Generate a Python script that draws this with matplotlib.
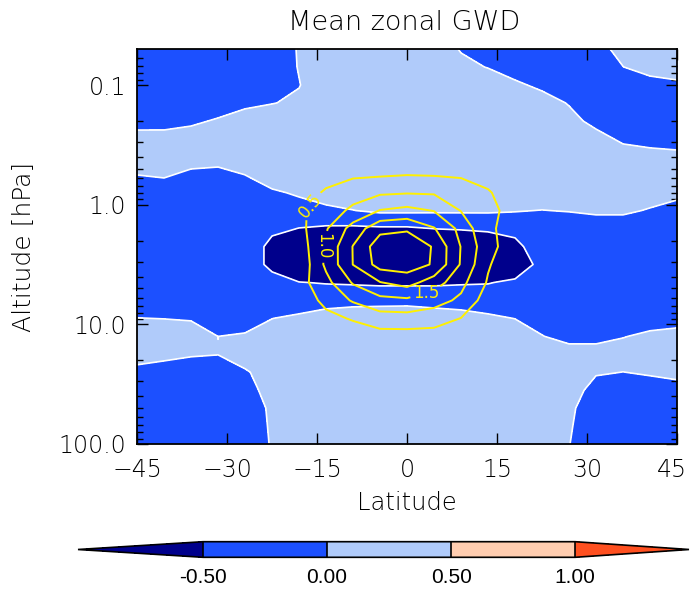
import numpy as np
import matplotlib
matplotlib.use("Agg")
from matplotlib import pyplot as plt
from matplotlib import transforms

# latitude grid (degrees) and pressure levels (hPa) of the model output
lat = np.linspace(-45, 45, 21)
pressure = [0.05, 0.0708, 0.1, 0.141, 0.2, 0.282, 0.398, 0.562, 0.794, 1.12, 1.58, 2.24,
            3.16, 4.47, 6.31, 8.91, 12.6, 17.8, 25.1, 35.5, 50.1, 70.8, 100.0]

# mean zonal gravity wave drag, one row per pressure level (top to bottom)
gwd = [
    [-0.25, -0.25, -0.25, -0.25, -0.25, -0.25, 0.031, 0.25, 0.25, 0.25, 0.25, 0.25, -0.031, -0.25, -0.25, -0.25, -0.25, -0.25, 0.23, 0.25, 0.25],
    [-0.25, -0.25, -0.25, -0.25, -0.25, -0.25, 0.02, 0.25, 0.25, 0.25, 0.25, 0.25, 0.11, -0.016, -0.36, -0.25, -0.25, -0.25, -0.01, 0.25, 0.36],
    [-0.25, -0.25, -0.25, -0.25, -0.25, -0.25, -0.015, 0.25, 0.25, 0.25, 0.25, 0.25, 0.25, 0.25, 0.14, -0.167, -0.25, -0.25, -0.25, -0.25, -0.14],
    [-0.25, -0.25, -0.25, -0.415, -0.165, -0.016, 0.07, 0.25, 0.25, 0.25, 0.25, 0.25, 0.25, 0.25, 0.25, 0.333, -0.051, -0.25, -0.25, -0.25, -0.25],
    [-0.25, -0.25, -0.14, 0.085, 0.335, 0.25, 0.25, 0.25, 0.25, 0.25, 0.25, 0.25, 0.25, 0.25, 0.25, 0.25, 0.25, -0.225, -0.25, -0.25, -0.25],
    [0.247, 0.25, 0.36, 0.25, 0.25, 0.25, 0.25, 0.25, 0.25, 0.25, 0.25, 0.25, 0.25, 0.25, 0.25, 0.25, 0.25, 0.275, -0.14, -0.25, -0.31],
    [0.25, 0.25, 0.34, 0.285, 0.25, 0.25, 0.25, 0.25, 0.25, 0.25, 0.25, 0.25, 0.25, 0.25, 0.25, 0.25, 0.25, 0.25, 0.36, 0.25, 0.19],
    [0.003, 0.09, -0.16, -0.215, 0.003, 0.395, 0.25, 0.25, 0.25, 0.25, 0.25, 0.25, 0.25, 0.25, 0.25, 0.25, 0.25, 0.25, 0.25, 0.25, 0.25],
    [-0.25, -0.41, -0.25, -0.25, -0.25, -0.105, 0.095, 0.34, 0.25, 0.25, 0.25, 0.25, 0.25, 0.25, 0.25, 0.25, 0.25, 0.25, 0.25, 0.25, 0.205],
    [-0.25, -0.25, -0.25, -0.25, -0.25, -0.25, -0.3, -0.16, -0.01, 0.083, 0.083, 0.07, 0.07, 0.07, 0.023, -0.01, 0.023, 0.095, 0.095, -0.044, -0.295],
    [-0.25, -0.25, -0.25, -0.25, -0.25, -0.424, -0.506, -0.56, -0.586, -0.558, -0.558, -0.49, -0.47, -0.45, -0.3, -0.25, -0.3, -0.3, -0.3, -0.25, -0.25],
    [-0.25, -0.25, -0.25, -0.25, -0.25, -0.607, -0.8, -0.9, -1.0, -1.0, -1.0, -0.99, -0.845, -0.713, -0.685, -0.1, -0.25, -0.25, -0.25, -0.25, -0.25],
    [-0.25, -0.25, -0.25, -0.25, -0.25, -0.607, -0.888, -0.9, -1.0, -1.0, -1.0, -1.0, -1.0, -0.9, -0.82, -0.34, -0.25, -0.25, -0.25, -0.25, -0.25],
    [-0.25, -0.25, -0.25, -0.25, -0.25, -0.346, -0.488, -0.522, -0.545, -0.57, -0.582, -0.582, -0.537, -0.522, -0.42, -0.25, -0.25, -0.25, -0.25, -0.25, -0.25],
    [-0.25, -0.25, -0.25, -0.25, -0.25, -0.25, -0.375, -0.25, -0.2, -0.2, -0.15, -0.15, -0.25, -0.25, -0.25, -0.25, -0.25, -0.25, -0.25, -0.25, -0.25],
    [0.008, -0.008, -0.041, -0.25, -0.405, -0.008, 0.125, 0.28, 0.356, 0.406, 0.334, 0.207, 0.222, 0.083, -0.008, -0.25, -0.25, -0.25, -0.25, -0.25, -0.265],
    [0.25, 0.25, 0.25, -0.002, 0.095, 0.25, 0.25, 0.25, 0.25, 0.25, 0.25, 0.25, 0.25, 0.25, 0.25, 0.022, -0.21, -0.21, -0.025, 0.112, 0.235],
    [0.295, 0.185, 0.041, 0.01, 0.405, 0.25, 0.25, 0.25, 0.25, 0.25, 0.25, 0.25, 0.25, 0.25, 0.25, 0.25, 0.29, 0.29, 0.25, 0.25, 0.25],
    [-0.205, -0.315, -0.25, -0.3, -0.095, 0.4, 0.25, 0.25, 0.25, 0.25, 0.25, 0.25, 0.25, 0.25, 0.25, 0.25, 0.25, 0.0625, -0.005, 0.0625, 0.185],
    [-0.25, -0.25, -0.25, -0.25, -0.25, 0.25, 0.25, 0.25, 0.25, 0.25, 0.25, 0.25, 0.25, 0.25, 0.25, 0.25, 0.318, -0.25, -0.25, -0.25, -0.25],
    [-0.25, -0.25, -0.25, -0.25, -0.25, 0.075, 0.25, 0.25, 0.25, 0.25, 0.25, 0.25, 0.25, 0.25, 0.25, 0.25, 0.083, -0.25, -0.25, -0.25, -0.25],
    [-0.25, -0.25, -0.25, -0.25, -0.25, 0.051, 0.25, 0.25, 0.25, 0.25, 0.25, 0.25, 0.25, 0.25, 0.25, 0.25, 0.041, -0.25, -0.25, -0.25, -0.25],
    [-0.25, -0.25, -0.25, -0.25, -0.25, 0.031, 0.25, 0.25, 0.25, 0.25, 0.25, 0.25, 0.25, 0.25, 0.25, 0.25, 0.01, -0.25, -0.25, -0.25, -0.25],
]

# second field (yellow contours) on the inner part of the grid
lat_in = np.linspace(-22.5, 22.5, 11)
pressure_in = [0.398, 0.562, 0.794, 1.12, 1.58, 2.24, 3.16, 4.47, 6.31, 8.91, 12.6]
overlay = [
    [0.0, 0.05, 0.1, 0.15, 0.15, 0.15, 0.15, 0.15, 0.1, 0.05, 0.0],
    [0.0, 0.15, 0.35, 0.42, 0.45, 0.49, 0.47, 0.42, 0.3, 0.1, 0.0],
    [0.0, 0.3, 0.55, 0.8, 0.93, 0.97, 0.95, 0.85, 0.55, 0.2, 0.0],
    [0.0, 0.4, 0.75, 1.1, 1.52, 1.64, 1.48, 0.98, 0.65, 0.3, 0.0],
    [0.0, 0.34, 0.95, 1.7, 2.35, 2.42, 2.03, 1.35, 0.55, 0.38, 0.0],
    [0.0, 0.19, 1.1, 2.02, 2.79, 2.9, 2.45, 1.48, 0.67, 0.21, 0.0],
    [0.0, 0.1, 1.1, 2.01, 2.7, 2.75, 2.45, 1.45, 0.55, 0.1, 0.0],
    [0.0, 0.3, 0.85, 1.55, 1.98, 2.2, 1.75, 1.15, 0.45, 0.1, 0.0],
    [0.0, 0.15, 0.65, 1.05, 1.35, 1.4, 1.2, 0.9, 0.25, 0.05, 0.0],
    [0.0, 0.05, 0.35, 0.55, 0.78, 0.8, 0.72, 0.49, 0.1, 0.0, 0.0],
    [0.0, 0.0, 0.1, 0.2, 0.3, 0.3, 0.3, 0.2, 0.05, 0.0, 0.0],
]

fill_levels = [-0.5, 0.0, 0.5, 1.0]
fill_colors = ["#00008c", "#1c50ff", "#b0cbfa", "#ffcdb0", "#ff5020"]
line_levels = [0.5, 1.0, 1.5, 2.0, 2.5]
label_levels = [0.5, 1.0, 1.5]
cbar_labels = ["-0.50", "0.00", "0.50", "1.00"]

font = ["DejaVu Sans"]
ink = "#000000"
thin = 200
yellow = "#fff000"

fig = plt.figure(figsize=(6.9, 5.89), dpi=100)
ax = fig.add_axes([0.1986, 0.2462, 0.7826, 0.6706])

# contour in log-pressure so the levels are spaced like the axis
logp = np.log10(pressure)
logp_in = np.log10(pressure_in)

cf = ax.contourf(lat, logp, gwd, levels=fill_levels, colors=fill_colors, extend="both")
ax.contour(lat, logp, gwd, levels=fill_levels, colors="white", linewidths=1.2,
           linestyles="solid")

cs = ax.contour(lat_in, logp_in, overlay, levels=line_levels, colors=yellow, linewidths=1.4)
lbls = ax.clabel(cs, levels=label_levels, fmt="%.1f", fontsize=12, inline=True,
                 inline_spacing=3, colors=yellow,
                 manual=[(-15.3, 0.036), (-14.5, 0.345), (3.2, 0.746)])
# label orientation along the curves
for t in lbls:
    t.set_fontfamily(font)
    txt = t.get_text()
    if txt == "0.5":
        t.set_rotation(50)
    elif txt == "1.0":
        t.set_rotation(-90)
    else:
        t.set_rotation(0)

ax.set_xlim(-45, 45)
ax.set_ylim(2.0, np.log10(0.05))
ax.set_xticks([-45, -30, -15, 0, 15, 30, 45])
ax.set_yticks([-1, 0, 1, 2])
ax.set_yticklabels(["0.1", "1.0", "10.0", "100.0"])
minor = [np.log10(k * 10.0 ** n) for n in (-2, -1, 0, 1) for k in range(2, 10)]
ax.set_yticks([m for m in minor if -1.30 <= m <= 2.0], minor=True)

ax.tick_params(which="both", direction="in", top=True, right=True, width=1.0,
               color="black", labelcolor=ink)
ax.tick_params(which="major", length=8, labelsize=17, pad=8)
ax.tick_params(which="minor", length=4.5)
ax.tick_params(axis="x", pad=10)
for lab in ax.get_xticklabels() + ax.get_yticklabels():
    lab.set_fontfamily(font)
    lab.set_fontweight(thin)
# keep the last latitude label inside the figure
last = ax.xaxis.get_major_ticks()[-1].label1
last.set_transform(last.get_transform()
                   + transforms.ScaledTranslation(-5 / 100, 0, fig.dpi_scale_trans))
for sp in ax.spines.values():
    sp.set_linewidth(1.3)

fig.text(0.5855, 1 - 22 / 589, "Mean zonal GWD", ha="center", va="center", fontsize=19.5,
         family=font, weight=thin, color=ink)
fig.text(0.5899, 1 - 503 / 589, "Latitude", ha="center", va="center", fontsize=17.5,
         family=font, weight=thin, color=ink)
fig.text(24 / 690, 1 - 247 / 589, "Altitude [hPa]", ha="center", va="center", rotation=90,
         fontsize=18, family=font, weight=thin, color=ink)

# colour bar with pointed ends below the panel
cax = fig.add_axes([78 / 690, 1 - 557.3 / 589, 611 / 690, 15.6 / 589])
cb = fig.colorbar(cf, cax=cax, orientation="horizontal", extendfrac=[0.336, 0.306],
                  drawedges=True)
cb.set_ticks(fill_levels)
cb.set_ticklabels(cbar_labels)
cb.ax.tick_params(length=0, labelsize=15, pad=8)
for lab in cb.ax.get_xticklabels():
    lab.set_fontfamily("Liberation Sans")
cb.outline.set_linewidth(1.2)
cb.dividers.set_linewidth(1.2)

fig.savefig("out.png", dpi=100)
